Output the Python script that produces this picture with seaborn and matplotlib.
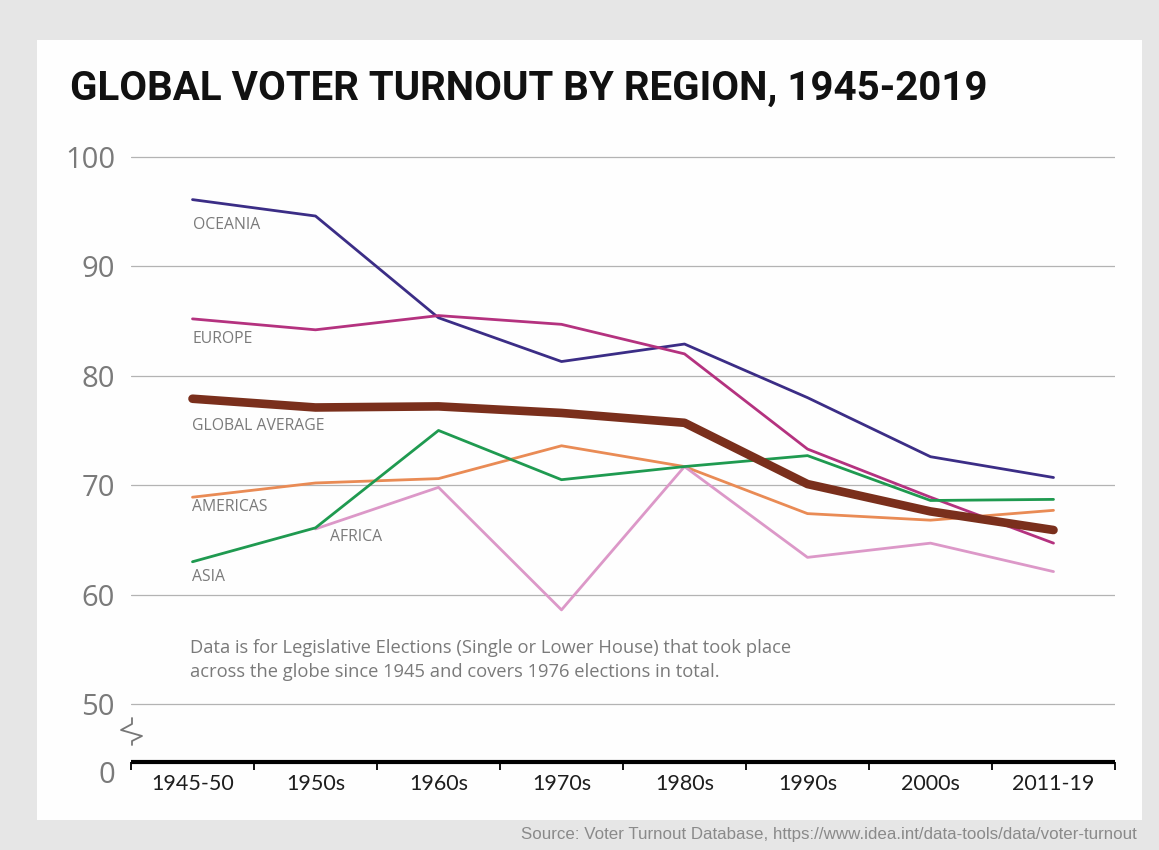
import numpy as np
import pandas as pd
import matplotlib
matplotlib.use("Agg")
import matplotlib.pyplot as plt
from matplotlib.patches import Rectangle
from matplotlib.lines import Line2D
import seaborn as sns

# ---- data -------------------------------------------------------------
periods = ["1945-50", "1950s", "1960s", "1970s", "1980s", "1990s", "2000s", "2011-19"]

oceania = [96.1, 94.6, 85.3, 81.3, 82.9, 78.0, 72.6, 70.7]
europe = [85.2, 84.2, 85.5, 84.7, 82.0, 73.3, 68.9, 64.7]
americas = [68.9, 70.2, 70.6, 73.6, 71.7, 67.4, 66.8, 67.7]
africa = [np.nan, 66.0, 69.8, 58.6, 71.7, 63.4, 64.7, 62.1]
asia = [63.0, 66.1, 75.0, 70.5, 71.7, 72.7, 68.6, 68.7]
global_average = [77.9, 77.1, 77.2, 76.6, 75.7, 70.1, 67.6, 65.9]

region_names = ["OCEANIA", "EUROPE", "AMERICAS", "AFRICA", "ASIA", "GLOBAL AVERAGE"]
region_values = [oceania, europe, americas, africa, asia, global_average]

y_gridlines = [50, 60, 70, 80, 90, 100]

title = "GLOBAL VOTER TURNOUT BY REGION, 1945-2019"
note = ("Data is for Legislative Elections (Single or Lower House) that took place\n"
        "across the globe since 1945 and covers 1976 elections in total.")
source = "Source: Voter Turnout Database, https://www.idea.int/data-tools/data/voter-turnout"

# ---- styling ----------------------------------------------------------
colors = {
    "OCEANIA": "#3b2d86",
    "EUROPE": "#b4327f",
    "AMERICAS": "#e98b55",
    "AFRICA": "#dc98c8",
    "ASIA": "#1f9a50",
    "GLOBAL AVERAGE": "#7a2f1c",
}
widths = {name: 2.0 for name in region_names}
widths["GLOBAL AVERAGE"] = 6.2

# label anchors (x in category units, y in turnout units)
label_pos = {
    "OCEANIA": (0.0, 93.8),
    "EUROPE": (0.0, 83.4),
    "GLOBAL AVERAGE": (0.0, 75.4),
    "AMERICAS": (0.0, 68.0),
    "AFRICA": (1.12, 65.3),
    "ASIA": (0.0, 61.6),
}

sns.set_theme(style="white")
plt.rcParams["font.family"] = ["Open Sans", "DejaVu Sans"]
GREY_TEXT = "#7a7a7a"

W, H = 1159, 850
fig = plt.figure(figsize=(W / 100, H / 100), dpi=100, facecolor="#e6e6e6")

# white card behind the chart
fig.patches.append(Rectangle((37 / W, 1 - 820 / H), (1142 - 37) / W, (820 - 40) / H,
                             transform=fig.transFigure, facecolor="#fefefe",
                             edgecolor="none", zorder=-5))

Y_TOP, Y_BOTTOM = 101.0, 43.6
AXIS_FLOOR = 44.7          # where the broken axis baseline sits
ZERO_LABEL_Y = 43.75       # position of the "0" label below the break

ax = fig.add_axes([131 / W, 1 - 774 / H, 984 / W, 628 / H])
ax.set_facecolor("none")
ax.set_zorder(2)

# ---- lines ------------------------------------------------------------
x_pos = np.arange(len(periods))
df = pd.concat(
    [pd.DataFrame({"pos": x_pos, "period": periods, "turnout": vals, "region": name})
     for name, vals in zip(region_names, region_values)],
    ignore_index=True,
)

for z, name in enumerate(region_names):
    sub = df[df["region"] == name].dropna()
    sns.lineplot(data=sub, x="pos", y="turnout", color=colors[name],
                 linewidth=widths[name], sort=False, estimator=None, ax=ax,
                 legend=False)
    line = ax.lines[-1]
    line.set_solid_capstyle("round")
    line.set_solid_joinstyle("round")
    line.set_zorder(3 + z)

# horizontal guides
for level in y_gridlines:
    ax.axhline(level, color="#b3b3b3", linewidth=0.9, zorder=1)

# ---- axes ------------------------------------------------------------
ax.set_xlim(-0.5, len(periods) - 0.5)
ax.set_ylim(Y_BOTTOM, Y_TOP)
ax.set_xlabel("")
ax.set_ylabel("")

for side in ("top", "right", "left"):
    ax.spines[side].set_visible(False)
ax.spines["bottom"].set_position(("data", AXIS_FLOOR))
ax.spines["bottom"].set_linewidth(3.0)
ax.spines["bottom"].set_color("black")
ax.spines["bottom"].set_capstyle("butt")
ax.spines["bottom"].set_zorder(10)

ax.set_xticks(x_pos)
ax.set_xticklabels(periods)
ax.set_xticks(np.arange(-0.5, len(periods)), minor=True)
ax.tick_params(axis="x", which="major", length=0, pad=9, labelsize=15.5,
               labelcolor="#1e1e1e")
ax.tick_params(axis="x", which="minor", bottom=True, length=6, width=1.3,
               color="black", direction="out")
for lbl in ax.get_xticklabels():
    lbl.set_fontfamily(["Lato", "DejaVu Sans"])

ax.set_yticks([ZERO_LABEL_Y] + y_gridlines)
ax.set_yticklabels(["0"] + [str(v) for v in y_gridlines])
ax.tick_params(axis="y", length=0, pad=11.5, labelsize=21, labelcolor=GREY_TEXT)
ax.grid(False)

# axis-break zigzag on the left edge
bx = np.array([132, 132, 121, 142, 132, 132])
by = np.array([718, 724, 730, 736, 741, 745])
ax.add_line(Line2D((bx - 131) / 984, (774 - by) / 628, transform=ax.transAxes,
                   color="#777777", linewidth=1.3, clip_on=False))

# ---- text ------------------------------------------------------------
for name, (lx, ly) in label_pos.items():
    ax.text(lx, ly, name, fontsize=11.3, color=GREY_TEXT, ha="left", va="center",
            zorder=20)

ax.text(-0.02, 54.0, note, fontsize=13.2, color=GREY_TEXT, ha="left", va="center",
        linespacing=1.4, zorder=20)

fig.text(70 / W, 1 - 100 / H, title, fontsize=29, fontweight="bold",
         family=["Roboto", "DejaVu Sans"], color="#111111", ha="left",
         va="baseline")

fig.text(1137 / W, 1 - 835 / H, source, fontsize=12.2,
         family=["Liberation Sans", "DejaVu Sans"],
         color="#8a8a8a", ha="right", va="center")

fig.savefig("out.png", dpi=100, facecolor=fig.get_facecolor())
